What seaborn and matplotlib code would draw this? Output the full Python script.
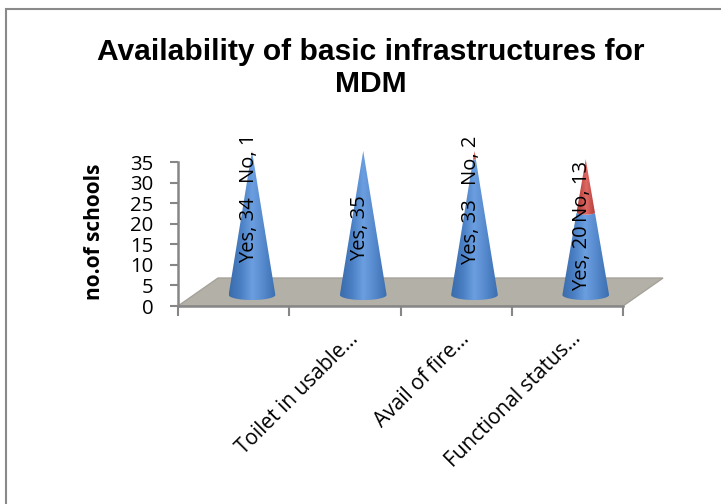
import numpy as np
import pandas as pd
import matplotlib
matplotlib.use("Agg")
import matplotlib.pyplot as plt
from matplotlib.patches import Polygon, Rectangle
from matplotlib.colors import LinearSegmentedColormap
from matplotlib.transforms import ScaledTranslation
import seaborn as sns

categories = ["Infrastructure A", "Toilet in usable...", "Avail of fire...", "Functional status..."]
tick_labels = ["", "Toilet in usable...", "Avail of fire...", "Functional status..."]
yes_values = [34, 35, 33, 20]
no_values = [1, 0, 2, 13]
y_ticks = [0, 5, 10, 15, 20, 25, 30, 35]

sns.set_theme(style="white")
plt.rcParams["font.family"] = ["Open Sans", "DejaVu Sans"]

W, H = 721, 504
fig = plt.figure(figsize=(W / 100, H / 100), dpi=100, facecolor="white")

# Chart frame running off the right and bottom of the canvas
fig.add_artist(Rectangle((5.5 / W, -0.1), 1.2, 1 - 8.5 / H + 0.1, transform=fig.transFigure,
                         fill=False, edgecolor="#8a8a8a", linewidth=1.5))

left, right, top, bottom = 178, 623, 162, 306
ax = fig.add_axes([left / W, 1 - bottom / H, (right - left) / W, (bottom - top) / H])
ax.patch.set_alpha(0)

df = pd.DataFrame({"category": categories, "Yes": yes_values, "No": no_values})
cone_width = 0.42
sns.barplot(data=df, x="category", y="Yes", color="#4a7fc4", width=cone_width, ax=ax)
n_yes = len(ax.patches)
sns.barplot(data=df, x="category", y="No", color="#c9504b", bottom=df["Yes"], width=cone_width, ax=ax)
yes_bars = ax.patches[:n_yes]
no_bars = ax.patches[n_yes:]

ax.set_xlim(-0.5, 3.5)
ax.set_ylim(0, 35)

# Chart floor in pseudo-perspective
depth_x, depth_y = 0.36, 6.8
floor = Polygon([(-0.5, 0), (-0.5 + depth_x, depth_y), (3.5 + depth_x, depth_y), (3.5, 0)],
                closed=True, facecolor="#b3b0a8", edgecolor="#a5a29a", linewidth=1,
                clip_on=False, zorder=0.5)
ax.add_patch(floor)

blue = LinearSegmentedColormap.from_list("b", ["#3a6cab", "#4a7fc4", "#6b9fe0", "#5488cc", "#3b6fb0"])
red = LinearSegmentedColormap.from_list("r", ["#a83c38", "#c9504b", "#dd6a64", "#c9504b", "#a83c38"])
gradient = np.linspace(0, 1, 128).reshape(1, -1)

shift_x, base_y = 0.165, 2.7
ellipse_h = 1.25
theta = np.linspace(np.pi, 2 * np.pi, 40)


def cone_slice(cx, half, total, low, high):
    """Outline of the cone section between two stacked heights."""
    def radius(v):
        return half * (1 - v / total)
    r0, r1 = radius(low), radius(high)
    lower = [(cx + r0 * np.cos(t), base_y + low + ellipse_h * (r0 / half) * np.sin(t)) for t in theta]
    upper = [(cx + r1 * np.cos(t), base_y + high + ellipse_h * (r1 / half) * np.sin(t)) for t in theta[::-1]]
    return lower + upper


def draw_slice(cx, half, total, low, high, cmap):
    outline = cone_slice(cx, half, total, low, high)
    clip = Polygon(outline, closed=True, transform=ax.transData, facecolor="none", edgecolor="none")
    ax.add_patch(clip)
    clip.set_clip_on(False)
    r0 = half * (1 - low / total)
    im = ax.imshow(gradient, cmap=cmap, aspect="auto", interpolation="bilinear", zorder=2,
                   extent=(cx - r0, cx + r0, base_y + low - ellipse_h, base_y + high + 0.2))
    # Apexes rise above the top of the value axis, so only the cone outline clips them
    im.set_clip_box(fig.bbox)
    im.set_clip_path(clip)


for yb, nb in zip(yes_bars, no_bars):
    cx = yb.get_x() + yb.get_width() / 2 + shift_x
    half = yb.get_width() / 2
    yes = yb.get_height()
    no = nb.get_height()
    total = yes + no
    draw_slice(cx, half, total, 0, yes, blue)
    if no > 0:
        draw_slice(cx, half, total, yes, total, red)
    # The cones replace the rectangular bars that set up the scale
    yb.set_visible(False)
    nb.set_visible(False)

ax.set_xlim(-0.5, 3.5)
ax.set_ylim(0, 35)

# Data labels set vertically over each cone section
label_kw = dict(rotation=90, ha="center", va="center", fontsize=14.5, color="black",
                zorder=5, annotation_clip=False)
for yb, nb in zip(yes_bars, no_bars):
    cx = yb.get_x() + yb.get_width() / 2 + shift_x
    yes = yb.get_height()
    no = nb.get_height()
    ax.annotate(f"Yes, {yes:.0f}", (cx, base_y + yes / 2), xytext=(-2.4, -3.5),
                textcoords="offset points", **label_kw)
    if no > 0:
        ax.annotate(f"No, {no:.0f}", (cx, base_y + yes + no / 2), xytext=(-2.4, -4),
                    textcoords="offset points", **label_kw)

# Axes styling
axis_color = "#868686"
sns.despine(ax=ax, top=True, right=True)
for side in ("left", "bottom"):
    ax.spines[side].set_color(axis_color)
    ax.spines[side].set_linewidth(1.8)
ax.set_yticks(y_ticks)
ax.tick_params(axis="y", which="major", left=True, length=6, width=1.5, color=axis_color,
               labelsize=14.7, labelcolor="black", pad=11.5)
ax.set_xticks(np.arange(-0.5, 4, 1), minor=True)
ax.tick_params(axis="x", which="minor", bottom=True, length=7, width=1.5, color=axis_color)
ax.set_xticks(range(len(tick_labels)))
ax.set_xticklabels(tick_labels, rotation=45, ha="right", rotation_mode="anchor",
                   fontsize=15, color="black")
ax.tick_params(axis="x", which="major", bottom=False, pad=0)
nudge = ScaledTranslation(3 / 100, -14 / 100, fig.dpi_scale_trans)
for lab in ax.get_xticklabels():
    lab.set_transform(lab.get_transform() + nudge)

ax.set_xlabel("")
ax.set_ylabel("")
fig.text(95 / W, 1 - 232 / H, "no.of schools", rotation=90, ha="center", va="center",
         fontsize=15, fontweight="bold", color="black")
fig.text(371 / W, 1 - 68 / H, "Availability of basic infrastructures for\nMDM", ha="center", va="center",
         family=["Liberation Sans"], fontsize=21.6, fontweight="bold", color="black", linespacing=1.2)

fig.savefig("out.png", dpi=100)
